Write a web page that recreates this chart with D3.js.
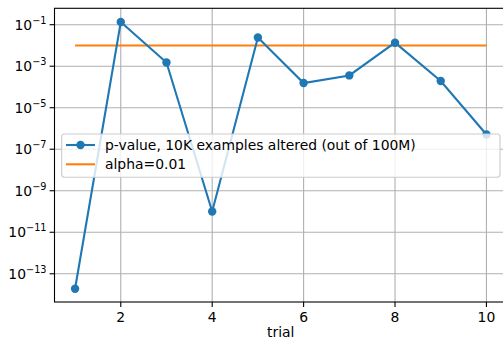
<!DOCTYPE html>
<html><head><meta charset="utf-8">
<script src="https://cdn.jsdelivr.net/npm/d3@7"></script>
<style>body{margin:0;background:#fff}svg{display:block}text{font-family:"DejaVu Sans",sans-serif;fill:#000}</style>
</head><body><svg id="c" width="503" height="341"></svg>
<script>
const trials = [1,2,3,4,5,6,7,8,9,10];
const pValues = [1.9e-14, 0.135, 1.5e-3, 1.0e-10, 0.024, 1.55e-4, 3.6e-4, 0.0136, 1.95e-4, 5.1e-7];
const alpha = 0.01;
const xTicks = [2,4,6,8,10];
const yTickExps = [-13,-11,-9,-7,-5,-3,-1];
const seriesLabels = ["p-value, 10K examples altered (out of 100M)", "alpha=0.01"];
const xLabel = "trial";

const svg = d3.select("#c");
const L = 54.5, R = 507, T = 8.3, B = 302;
const x = d3.scaleLinear().domain([0.55, 10.45]).range([L, R]);
const y = d3.scaleLog().domain([Math.pow(10,-14.36), Math.pow(10,-0.21)]).range([B, T]);
const fs = 13.9;
const blue = "#1f77b4", orange = "#ff7f0e";

// grid
const g = svg.append("g");
xTicks.forEach(t => g.append("line").attr("x1", x(t)).attr("x2", x(t)).attr("y1", T).attr("y2", B)
  .attr("stroke", "#b0b0b0").attr("stroke-width", 1.1));
yTickExps.forEach(e => g.append("line").attr("x1", L).attr("x2", R).attr("y1", y(Math.pow(10,e))).attr("y2", y(Math.pow(10,e)))
  .attr("stroke", "#b0b0b0").attr("stroke-width", 1.1));

// alpha line
svg.append("line").attr("x1", x(trials[0])).attr("x2", x(trials[trials.length-1]))
  .attr("y1", y(alpha)).attr("y2", y(alpha)).attr("stroke", orange).attr("stroke-width", 2.1);

// series
const line = d3.line().x((d,i) => x(trials[i])).y(d => y(d));
svg.append("path").datum(pValues).attr("d", line).attr("fill", "none").attr("stroke", blue).attr("stroke-width", 2.1);
svg.selectAll("circle.pt").data(pValues).enter().append("circle").attr("class","pt")
  .attr("cx", (d,i) => x(trials[i])).attr("cy", d => y(d)).attr("r", 4.2).attr("fill", blue);

// spines
const sp = svg.append("g").attr("stroke", "#000").attr("stroke-width", 1.1).attr("fill","none");
sp.append("rect").attr("x", L).attr("y", T).attr("width", R - L).attr("height", B - T);

// x ticks
xTicks.forEach(t => {
  svg.append("line").attr("x1", x(t)).attr("x2", x(t)).attr("y1", B).attr("y2", B + 4.9).attr("stroke", "#000").attr("stroke-width", 1.1);
  svg.append("text").attr("x", x(t)).attr("y", B + 20).attr("text-anchor", "middle").attr("font-size", fs).text(t);
});
svg.append("text").attr("x", (L + R) / 2).attr("y", 337).attr("text-anchor", "middle").attr("font-size", fs).text(xLabel);

// y ticks
yTickExps.forEach(e => {
  const yy = y(Math.pow(10, e));
  svg.append("line").attr("x1", L - 4.9).attr("x2", L).attr("y1", yy).attr("y2", yy).attr("stroke", "#000").attr("stroke-width", 1.1);
  const t = svg.append("text").attr("x", L - 8).attr("y", yy + 5).attr("text-anchor", "end").attr("font-size", fs);
  t.append("tspan").text("10");
  t.append("tspan").attr("dy", -6).attr("font-size", fs * 0.7).text("\u2212" + Math.abs(e));
});

// legend
const lg = svg.append("g");
lg.append("rect").attr("x", 61.7).attr("y", 134).attr("width", 500 - 61.7).attr("height", 43.3).attr("rx", 3)
  .attr("fill", "#fff").attr("fill-opacity", 0.8).attr("stroke", "#cccccc").attr("stroke-width", 1.1);
const rows = [145, 164.3];
lg.append("line").attr("x1", 66).attr("x2", 95).attr("y1", rows[0]).attr("y2", rows[0]).attr("stroke", blue).attr("stroke-width", 2.1);
lg.append("circle").attr("cx", 80.5).attr("cy", rows[0]).attr("r", 4.2).attr("fill", blue);
lg.append("line").attr("x1", 66).attr("x2", 95).attr("y1", rows[1]).attr("y2", rows[1]).attr("stroke", orange).attr("stroke-width", 2.1);
seriesLabels.forEach((s, i) => lg.append("text").attr("x", 105).attr("y", rows[i] + 5).attr("font-size", fs).text(s));
</script></body></html>
